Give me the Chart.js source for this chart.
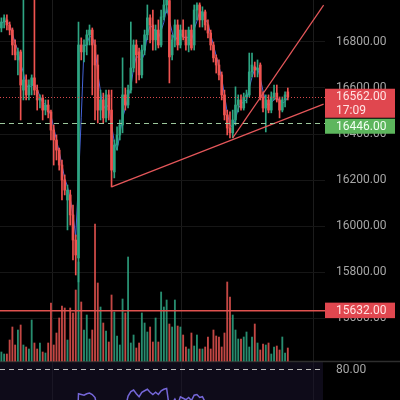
<!DOCTYPE html>
<html>
<head>
<meta charset="utf-8">
<script src="https://cdn.jsdelivr.net/npm/chart.js@4.4.1/dist/chart.umd.min.js"></script>
<style>
  html, body { margin: 0; padding: 0; background: #000; }
  canvas { display: block; }
</style>
</head>
<body>
<canvas id="chart" width="400" height="400"></canvas>
<script>
// candles, oldest first
var opens = [
  16861,16887,16896,16874,16852,16787,16722,16757,16591,16635,
  16570,16613,16644,16591,16548,16557,16504,16526,16496,16417,
  16374,16330,16265,16200,16113,16135,16048,15939,15861,16787,
  16757,16787,16831,16852,16787,16700,16504,16548,16470,16570,
  16504,16235,16352,16396,16439,16570,16526,16591,16687,16787,
  16757,16657,16765,16831,16905,16874,16809,16852,16787,16909,
  16961,16980,16744,16809,16874,16787,16852,16822,16787,16852,
  16787,16939,16961,16896,16931,16874,16839,16787,16731,16700,
  16657,16570,16483,16426,16405,16461,16526,16548,16513,16561,
  16570,16670,16692,16678,16700,16561,16513,16548,16504,16561,
  16578,16548,16504,16548,16583
];
var closes = [
  16887,16905,16874,16852,16787,16744,16757,16613,16635,16570,
  16613,16644,16591,16548,16557,16504,16526,16496,16417,16374,
  16330,16265,16200,16156,16156,16048,15939,15874,16787,16757,
  16787,16831,16852,16787,16700,16504,16548,16470,16570,16504,
  16243,16352,16396,16439,16570,16526,16591,16687,16787,16744,
  16657,16765,16831,16905,16874,16809,16852,16787,16909,16961,
  16985,16735,16809,16874,16787,16852,16822,16787,16852,16774,
  16939,16961,16896,16931,16874,16839,16787,16731,16700,16657,
  16570,16483,16426,16405,16461,16526,16548,16513,16561,16570,
  16670,16700,16678,16687,16561,16513,16548,16504,16561,16578,
  16548,16504,16548,16570,16562
];
var highs = [
  16905,16918,16918,16887,16861,16809,16774,16765,17000,16657,
  16635,16657,17000,16613,16570,16570,16548,16548,16504,16439,
  16396,16339,16287,16222,16178,16156,16091,15961,16887,16818,
  16809,16852,16874,16861,16809,16744,16591,16578,16591,16591,
  16591,16374,16431,16461,16731,16600,16613,16887,16809,16809,
  16774,16787,16852,16961,16918,16939,16874,16896,16939,16990,
  17000,17000,16831,16896,16896,16874,16896,16852,16865,16874,
  16961,16970,16970,16953,16939,16896,16852,16800,16744,16722,
  16670,16591,16504,16496,16504,16605,16570,16570,16578,16591,
  16752,16752,16713,16722,16709,16583,16570,16570,16583,16613,
  16613,16561,16561,16583,16600
];
var lows = [
  16844,16861,16852,16831,16744,16722,16657,16461,16548,16548,
  16548,16570,16570,16504,16513,16461,16483,16470,16374,16265,
  16287,16243,16113,16135,15983,16004,15852,15787,15757,16722,
  16713,16744,16787,16570,16461,16448,16461,16448,16452,16461,
  16170,16209,16330,16374,16405,16504,16513,16578,16670,16622,
  16635,16644,16744,16809,16796,16765,16765,16774,16779,16896,
  16926,16622,16722,16779,16765,16774,16809,16765,16757,16765,
  16765,16896,16865,16865,16852,16818,16765,16713,16665,16635,
  16548,16461,16396,16383,16383,16439,16496,16504,16504,16535,
  16561,16648,16648,16648,16548,16496,16409,16492,16492,16548,
  16539,16470,16496,16518,16548
];
var volumes = [
  90,70,70,210,340,160,310,360,160,140,
  120,410,180,120,180,90,80,180,580,160,
  280,430,550,530,210,530,480,710,990,590,
  310,460,220,310,1370,780,540,380,300,190,
  660,490,250,160,620,480,1040,180,260,130,
  180,480,380,290,340,190,430,190,690,540,
  610,370,340,610,350,340,260,140,120,280,
  150,260,120,120,140,240,120,310,250,240,
  140,280,790,640,460,310,220,220,240,290,
  140,240,370,180,110,170,160,180,70,140,
  150,110,240,80,130
];
var maLine = [
  16880,16890,16889,16877,16838,16795,16763,16705,16668,16606,
  16606,16609,16616,16594,16565,16536,16529,16509,16480,16429,
  16374,16323,16265,16207,16171,16120,16048,15954,16200,16473,
  16777,16792,16823,16823,16780,16664,16584,16507,16529,16515,
  16439,16366,16330,16396,16468,16512,16562,16601,16688,16739,
  16729,16722,16751,16834,16870,16863,16845,16816,16849,16886,
  16952,16894,16843,16806,16823,16838,16820,16820,16820,16804,
  16855,16891,16932,16929,16900,16881,16833,16786,16739,16696,
  16642,16570,16493,16438,16431,16464,16512,16529,16541,16548,
  16600,16647,16683,16688,16642,16587,16541,16522,16538,16548,
  16562,16543,16533,16541,16560
];
var rsiLine = [
  52,53,51,50,46,44,45,40,42,39,
  41,43,40,38,39,36,37,35,32,30,
  28,26,24,22,23,20,17,16,63.5,63,
  62.5,63.5,64,63,61,52,54,50,55,52,
  40,45,48,50,56,54,62,65,66,63.5,
  61.5,64.5,65.5,66.5,64.5,63,64.5,63,65.5,66.5,
  67,54,57,60,56,61.5,60.5,59.5,61,59,
  62.5,63,61,61.5,58,56,52,49,47,45,
  40,35,31,30,36,42,44,42,46,47,
  55,57,55,56,46,43,46,43,47,49,
  47,44,47,49,48
];

var emptySlots = 13;
var priceTicks = [15600, 15800, 16000, 16200, 16400, 16600, 16800, 17000];
var lastPrice = 16562;
var lastTime = '17:09';
var entryPrice = 16446;
var alertPrice = 15632;
var rsiLevel = 80;
// trend lines as [candle index, price]
var supportLine = [[40, 16170], [117, 16530]];
var steepLine = [[84, 16383], [117, 16960]];
var gridIndexes = [19, 66, 114];

var RED = '#ef5350';
var GREEN = '#2ea583';

var total = closes.length + emptySlots;
var labels = [];
for (var i = 0; i < total; i++) labels.push(String(i));

var upColor = closes.map(function (c, i) { return c >= opens[i] ? GREEN : RED; });
var volColor = closes.map(function (c, i) { return c >= opens[i] ? 'rgba(46,165,131,0.85)' : 'rgba(229,83,80,0.85)'; });

function lineBetween(pts) {
  var arr = new Array(total).fill(null);
  pts.forEach(function (p) { arr[p[0]] = p[1]; });
  return arr;
}

var overlay = {
  id: 'overlay',
  beforeDraw: function (chart) {
    var ctx = chart.ctx;
    ctx.save();
    ctx.fillStyle = '#000';
    ctx.fillRect(0, 0, chart.width, chart.height);
    ctx.restore();
  },
  beforeDatasetsDraw: function (chart) {
    var ctx = chart.ctx, a = chart.chartArea;
    var base = chart.scales.yv.getPixelForValue(0);
    var lvl = chart.scales.yr.getPixelForValue(rsiLevel);
    ctx.save();
    // rsi pane
    ctx.fillStyle = 'rgba(26,20,46,0.55)';
    ctx.fillRect(a.left, base + 1, a.right - 2 - a.left, a.bottom - base);
    ctx.strokeStyle = '#2e2e2e';
    ctx.lineWidth = 1.5;
    ctx.beginPath(); ctx.moveTo(0, base + 0.5); ctx.lineTo(chart.width, base + 0.5); ctx.stroke();
    ctx.strokeStyle = '#b8b8b8';
    ctx.lineWidth = 1;
    ctx.setLineDash([5, 4]);
    ctx.beginPath(); ctx.moveTo(a.left, Math.round(lvl) + 0.5); ctx.lineTo(a.right - 2, Math.round(lvl) + 0.5); ctx.stroke();
    ctx.restore();
  },
  afterDatasetsDraw: function (chart) {
    var ctx = chart.ctx, a = chart.chartArea, y = chart.scales.y;
    ctx.save();
    var yl = Math.round(y.getPixelForValue(lastPrice)) + 0.5;
    ctx.strokeStyle = '#d9474c';
    ctx.lineWidth = 1;
    ctx.setLineDash([1, 2]);
    ctx.beginPath(); ctx.moveTo(a.left, yl); ctx.lineTo(a.right, yl); ctx.stroke();
    var ye = Math.round(y.getPixelForValue(entryPrice)) + 0.5;
    ctx.strokeStyle = '#9cc79c';
    ctx.setLineDash([5, 4]);
    ctx.beginPath(); ctx.moveTo(a.left, ye); ctx.lineTo(a.right, ye); ctx.stroke();
    var ya = y.getPixelForValue(alertPrice);
    ctx.strokeStyle = '#e0524f';
    ctx.lineWidth = 1.5;
    ctx.setLineDash([]);
    ctx.beginPath(); ctx.moveTo(a.left, ya); ctx.lineTo(a.right, ya); ctx.stroke();
    ctx.restore();
  },
  afterDraw: function (chart) {
    var ctx = chart.ctx, a = chart.chartArea, y = chart.scales.y;
    var bx = a.right, bw = 70, tx = a.right + 11;
    ctx.save();
    ctx.font = '12px Roboto, sans-serif';
    ctx.textBaseline = 'middle';
    ctx.textAlign = 'left';
    // last price
    var yl = y.getPixelForValue(lastPrice);
    var redTop = yl - 8;
    ctx.fillStyle = '#e0474f';
    ctx.fillRect(bx, redTop, bw, 29);
    ctx.fillStyle = '#ffe3e3';
    ctx.fillText(lastPrice.toFixed(2), tx, yl + 0.5);
    ctx.fillText(lastTime, tx, yl + 14);
    // entry
    var ye = y.getPixelForValue(entryPrice);
    var gTop = Math.max(ye - 7.5, redTop + 30);
    ctx.fillStyle = '#5db65d';
    ctx.fillRect(bx, gTop, bw, 15);
    ctx.fillStyle = '#f2fff2';
    ctx.fillText(entryPrice.toFixed(2), tx, gTop + 8);
    // alert
    var ya = y.getPixelForValue(alertPrice);
    ctx.fillStyle = '#e0474f';
    ctx.fillRect(bx, ya - 8, bw, 15.5);
    ctx.fillStyle = '#ffe3e3';
    ctx.fillText(alertPrice.toFixed(2), tx, ya + 0.5);
    // rsi level label
    var lvl = chart.scales.yr.getPixelForValue(rsiLevel);
    ctx.fillStyle = '#a6a6a6';
    ctx.fillText(rsiLevel.toFixed(2), tx, lvl + 1);
    ctx.restore();
  }
};

new Chart(document.getElementById('chart').getContext('2d'), {
  type: 'bar',
  data: {
    labels: labels,
    datasets: [
      {
        type: 'line',
        data: lineBetween(supportLine),
        borderColor: '#e5575a',
        borderWidth: 1.2,
        pointRadius: 0,
        spanGaps: true,
        yAxisID: 'y',
        order: 1
      },
      {
        type: 'line',
        data: lineBetween(steepLine),
        borderColor: '#e5575a',
        borderWidth: 1.2,
        pointRadius: 0,
        spanGaps: true,
        yAxisID: 'y',
        order: 1
      },
      {
        type: 'line',
        data: rsiLine,
        borderColor: '#7567d8',
        borderWidth: 1.5,
        pointRadius: 0,
        yAxisID: 'yr',
        order: 2
      },
      {
        data: opens.map(function (o, i) { return [o, closes[i]]; }),
        backgroundColor: upColor,
        barThickness: 2,
        grouped: false,
        yAxisID: 'y',
        order: 4
      },
      {
        data: lows.map(function (l, i) { return [l, highs[i]]; }),
        backgroundColor: upColor,
        barThickness: 1,
        grouped: false,
        yAxisID: 'y',
        order: 5
      },
      {
        type: 'line',
        data: maLine,
        borderColor: '#4564d8',
        borderWidth: 1,
        pointRadius: 0,
        yAxisID: 'y',
        order: 6
      },
      {
        data: volumes,
        backgroundColor: volColor,
        barThickness: 1.2,
        grouped: false,
        yAxisID: 'yv',
        order: 9
      }
    ]
  },
  options: {
    responsive: false,
    animation: false,
    events: [],
    layout: { padding: 0 },
    plugins: {
      legend: { display: false },
      tooltip: { enabled: false }
    },
    scales: {
      x: {
        type: 'category',
        offset: true,
        ticks: { display: false },
        border: { display: false },
        grid: {
          offset: true,
          drawTicks: false,
          color: function (c) { return gridIndexes.indexOf(c.index) >= 0 ? '#1c1c1c' : 'rgba(0,0,0,0)'; }
        }
      },
      y: {
        position: 'right',
        min: 15243.5,
        max: 16982.6,
        afterBuildTicks: function (scale) {
          scale.ticks = priceTicks.map(function (v) { return { value: v }; });
        },
        afterFit: function (scale) {
          scale.width = 75;
          scale.paddingTop = 0;
          scale.paddingBottom = 0;
        },
        ticks: {
          color: '#a6a6a6',
          padding: 11,
          font: { family: 'Roboto, sans-serif', size: 12 },
          callback: function (v) { return Number(v).toFixed(2); }
        },
        border: { display: false },
        grid: { color: '#161616', drawTicks: false }
      },
      yv: { display: false, min: -390, max: 3610 },
      yr: { display: false, min: 59.33, max: 326 }
    }
  },
  plugins: [overlay]
});
</script>
</body>
</html>
